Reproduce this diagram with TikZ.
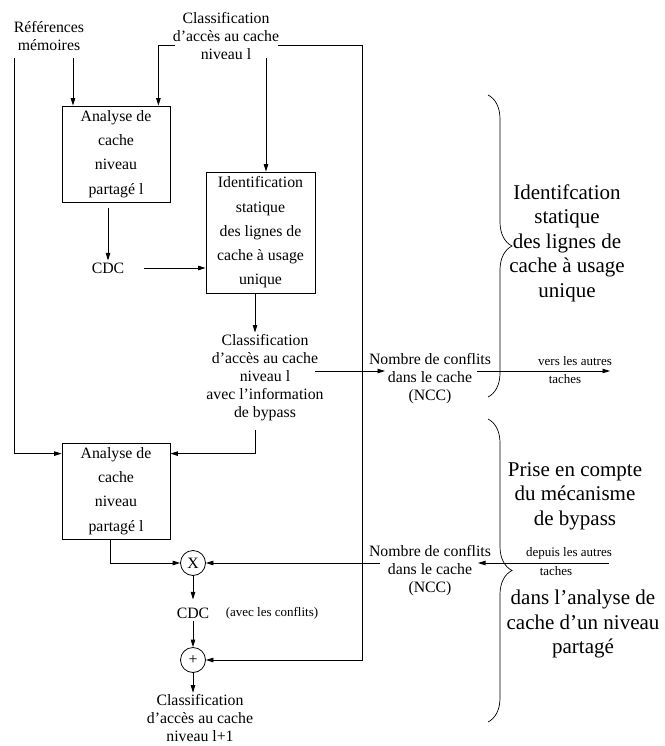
\documentclass[tikz,border=0pt]{standalone}
\usepackage{fontspec}
\setmainfont{Liberation Serif}
\usetikzlibrary{arrows.meta, positioning, decorations.pathreplacing}

\begin{document}
\begin{tikzpicture}[x=1pt, y=-1pt,
    every node/.style={font=\fontsize{15.8}{18}\selectfont, align=center, inner sep=2pt},
    arr/.style={-{Triangle[length=7.5pt,width=4.5pt]}, line width=0.8pt},
    blk/.style={draw, line width=0.8pt, font=\fontsize{15.8}{24.2}\selectfont},
    op/.style={draw, circle, line width=0.8pt, minimum size=25pt, inner sep=0pt},
    petit/.style={font=\fontsize{13}{15}\selectfont},
    grand/.style={font=\fontsize{21}{24.5}\selectfont},
    acc/.style={decorate, decoration={brace, amplitude=24pt}, line width=0.7pt}]
    \useasboundingbox (0,0) rectangle (664,746);

    % Entrees
    \node (refs) at (49,36.5) {Références\\mémoires};
    \node (cls1) at (226,36) {Classification\\d'accès au cache\\niveau l};

    % Premiere analyse et identification
    \node[blk, minimum width=108, minimum height=96] (box1) at (116,154) {Analyse de\\cache\\niveau\\partagé l};
    \node (cdc1) at (108,268) {CDC};
    \node[blk, minimum width=109, minimum height=121] (idbox) at (260.5,232.5) {Identification\\statique\\des lignes de\\cache à usage\\unique};
    \node (cls2) at (265,378) {Classification\\d'accès au cache\\niveau l\\avec l'information\\de bypass};

    % Conflits
    \node (ncc1) at (430,379) {Nombre de conflits\\dans le cache\\(NCC)};
    \node[petit] (vers) at (575,361) {vers les autres};
    \node[petit] (vers2) at (565,379) {taches};
    \node (ncc2) at (430,571) {Nombre de conflits\\dans le cache\\(NCC)};
    \node[petit] (dep) at (569,553) {depuis les autres};
    \node[petit] (dep2) at (556,571) {taches};

    % Seconde analyse
    \node[blk, minimum width=108, minimum height=96] (box2) at (116,491) {Analyse de\\cache\\niveau\\partagé l};
    \node[op] (mult) at (193,563) {X};
    \node (cdc2) at (193,613) {CDC};
    \node[petit] (avec) at (272,613) {(avec les conflits)};
    \node[op] (plus) at (193,660) {+};
    \node (cls3) at (200,718.5) {Classification\\d'accès au cache\\niveau l+1};

    % Accolades
    \node[grand] (but1) at (567,243) {Identifcation\\statique\\des lignes de\\cache à usage\\unique};
    \node[grand] (but2) at (575,496) {Prise en compte\\du mécanisme\\de bypass};
    \node[grand] (but3) at (583,624) {dans l'analyse de\\cache d'un niveau\\partagé};
    \draw[acc] (488,95) -- (488,397);
    \draw[acc] (488,419) -- (488,722);

    % Points de depart
    \coordinate (gauche) at (14,58);
    \coordinate (memo) at (73,58);
    \coordinate (cl1g) at (175,45);
    \coordinate (cl1d) at (278,45);
    \coordinate (cl1b) at (266,58);
    \coordinate (rail) at (362,45);
    \coordinate (idb) at ([xshift=-5.5pt]idbox.south);
    \coordinate (c2d) at (315,371);
    \coordinate (c2b) at (255,430);
    \coordinate (n1in) at (385,371);
    \coordinate (n1out) at (477,371);
    \coordinate (sortie) at (610,371);
    \coordinate (entree) at (609,563);
    \coordinate (n2in) at (478,563);
    \coordinate (n2out) at (380,563);

    % Connexions
    \draw[arr] (memo) -- (memo |- box1.north);
    \draw[arr] (cl1g) -| ([xshift=-12pt]box1.north east);
    \draw[arr] (cl1b) -- (cl1b |- idbox.north);
    \draw[arr, shorten <=6pt] (box1.south -| cdc1) -- (cdc1);
    \draw[arr, shorten <=18pt] (cdc1) -- (cdc1 -| idbox.west);
    \draw[arr] (idb) -- (idb |- cls2.north);
    \draw[arr] (c2d) -- (n1in);
    \draw[arr] (n1out) -- (sortie);
    \draw[arr] (gauche) |- ([yshift=-11pt]box2.north west);
    \draw[arr] (c2b) |- ([yshift=-11pt]box2.north east);
    \draw[arr] ([xshift=-6pt]box2.south) |- (mult);
    \draw[arr] (entree) -- (n2in);
    \draw[arr] (n2out) -- (mult);
    \draw[arr, shorten >=6pt] (mult) -- (cdc2);
    \draw[arr] (cdc2) -- (plus);
    \draw[arr] (plus) -- (plus |- cls3.north);
    \draw[arr] (cl1d) -- (rail) |- (plus);
\end{tikzpicture}
\end{document}
